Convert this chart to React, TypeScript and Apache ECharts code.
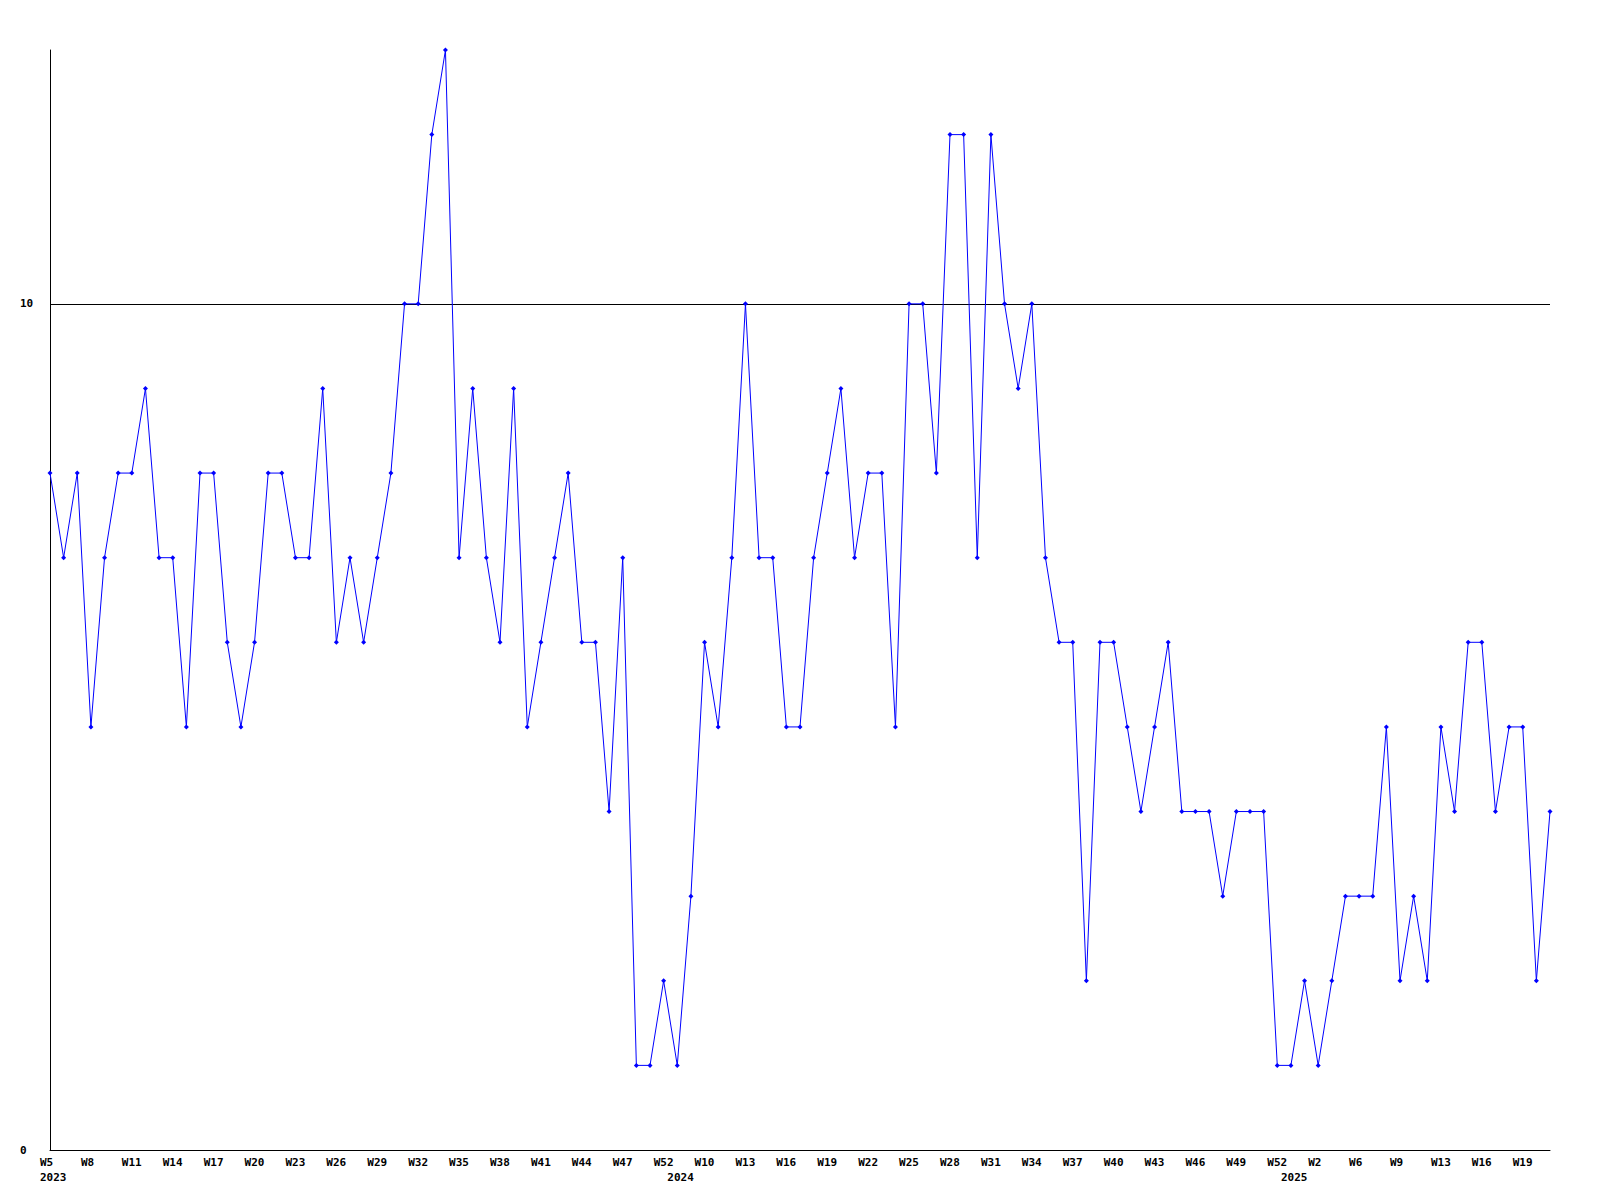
import React, { useEffect, useRef } from "react";
import * as echarts from "echarts";

// Week numbers per year, in data order
const weeks2023 = [5, 6, 7, 8, 9, 10, 11, 12, 13, 14, 15, 16, 17, 18, 19, 20, 21, 22, 23, 24, 25, 26, 27, 28, 29, 30, 31, 32, 33, 34, 35, 36, 37, 38, 39, 40, 41, 42, 43, 44, 45, 46, 47, 48, 50, 52];
const weeks2024 = [1, 6, 10, 11, 12, 13, 14, 15, 16, 17, 18, 19, 20, 21, 22, 23, 24, 25, 26, 27, 28, 29, 30, 31, 32, 33, 34, 35, 36, 37, 38, 39, 40, 41, 42, 43, 44, 45, 46, 47, 48, 49, 50, 51, 52];
const weeks2025 = [1, 1, 2, 4, 5, 6, 7, 8, 9, 11, 12, 13, 14, 15, 16, 17, 18, 19, 20, 21];

const values = [
  8, 7, 8, 5, 7, 8, 8, 9, 7, 7, 5, 8, 8, 6, 5, 6, 8, 8, 7, 7,
  9, 6, 7, 6, 7, 8, 10, 10, 12, 13, 7, 9, 7, 6, 9, 5, 6, 7, 8, 6,
  6, 4, 7, 1, 1, 2, 1, 3, 6, 5, 7, 10, 7, 7, 5, 5, 7, 8, 9, 7,
  8, 8, 5, 10, 10, 8, 12, 12, 7, 12, 10, 9, 10, 7, 6, 6, 2, 6, 6, 5,
  4, 5, 6, 4, 4, 4, 3, 4, 4, 4, 1, 1, 2, 1, 2, 3, 3, 3, 5, 2,
  3, 2, 5, 4, 6, 6, 4, 5, 5, 2, 4,
];

const yMin = 0;
const yMax = 13;
const yInterval = 10;
const labelEvery = 3;

const categories: string[] = [
  ...weeks2023.map((w) => `2023|W${w}`),
  ...weeks2024.map((w) => `2024|W${w}`),
  ...weeks2025.map((w) => `2025|W${w}`),
];

const FONT = "'DejaVu Sans Mono', 'Liberation Mono', monospace";

export default function App() {
  const ref = useRef<HTMLDivElement>(null);

  useEffect(() => {
    document.body.style.margin = "0";
    if (!ref.current) return;
    const chart = echarts.init(ref.current, undefined, { renderer: "svg" });

    const yearOf = (i: number) => categories[i].split("|")[0];
    const isYearStart = (i: number) => i === 0 || yearOf(i) !== yearOf(i - 1);

    chart.setOption({
      animation: false,
      backgroundColor: "#ffffff",
      grid: [
        { left: 50, right: 50, top: 50, bottom: 50, containLabel: false },
        { left: 40, right: 60, top: 50, bottom: 50, containLabel: false },
      ],
      xAxis: [
        {
          gridIndex: 0,
          type: "category",
          data: categories,
          boundaryGap: false,
          axisLine: { show: true, lineStyle: { color: "#000000", width: 1 } },
          axisTick: { show: false },
          axisLabel: { show: false },
          splitLine: { show: false },
        },
        {
          gridIndex: 1,
          type: "category",
          data: categories,
          boundaryGap: false,
          axisLine: { show: false },
          axisTick: { show: false },
          splitLine: { show: false },
          axisLabel: {
            show: true,
            interval: (i: number) => i % labelEvery === 0 || isYearStart(i),
            formatter: (v: string, i: number) => {
              const [year, week] = v.split("|");
              const top = i % labelEvery === 0 ? week : "";
              return isYearStart(i) ? `${top}\n${year}` : top;
            },
            align: "left",
            margin: 5,
            lineHeight: 15,
            fontFamily: FONT,
            fontWeight: "bold",
            fontSize: 11,
            color: "#000000",
          },
        },
      ],
      yAxis: [
        {
          gridIndex: 0,
          type: "value",
          min: yMin,
          max: yMax,
          interval: yInterval,
          axisLine: { show: true, lineStyle: { color: "#000000", width: 1 } },
          axisTick: { show: false },
          splitLine: {
            show: true,
            showMinLine: false,
            showMaxLine: false,
            lineStyle: { color: "#000000", width: 1, type: "solid" },
          },
          axisLabel: {
            showMaxLabel: false,
            align: "left",
            margin: 30,
            fontFamily: FONT,
            fontWeight: "bold",
            fontSize: 11,
            color: "#000000",
          },
        },
        {
          gridIndex: 1,
          type: "value",
          min: yMin,
          max: yMax,
          show: false,
        },
      ],
      series: [
        {
          type: "line",
          xAxisIndex: 0,
          yAxisIndex: 0,
          data: values,
          symbol: "diamond",
          symbolSize: 5,
          showAllSymbol: true,
          lineStyle: { color: "#0000ff", width: 1 },
          itemStyle: { color: "#0000ff" },
        },
      ],
    });

    return () => chart.dispose();
  }, []);

  return <div ref={ref} style={{ width: 1600, height: 1200 }} />;
}
